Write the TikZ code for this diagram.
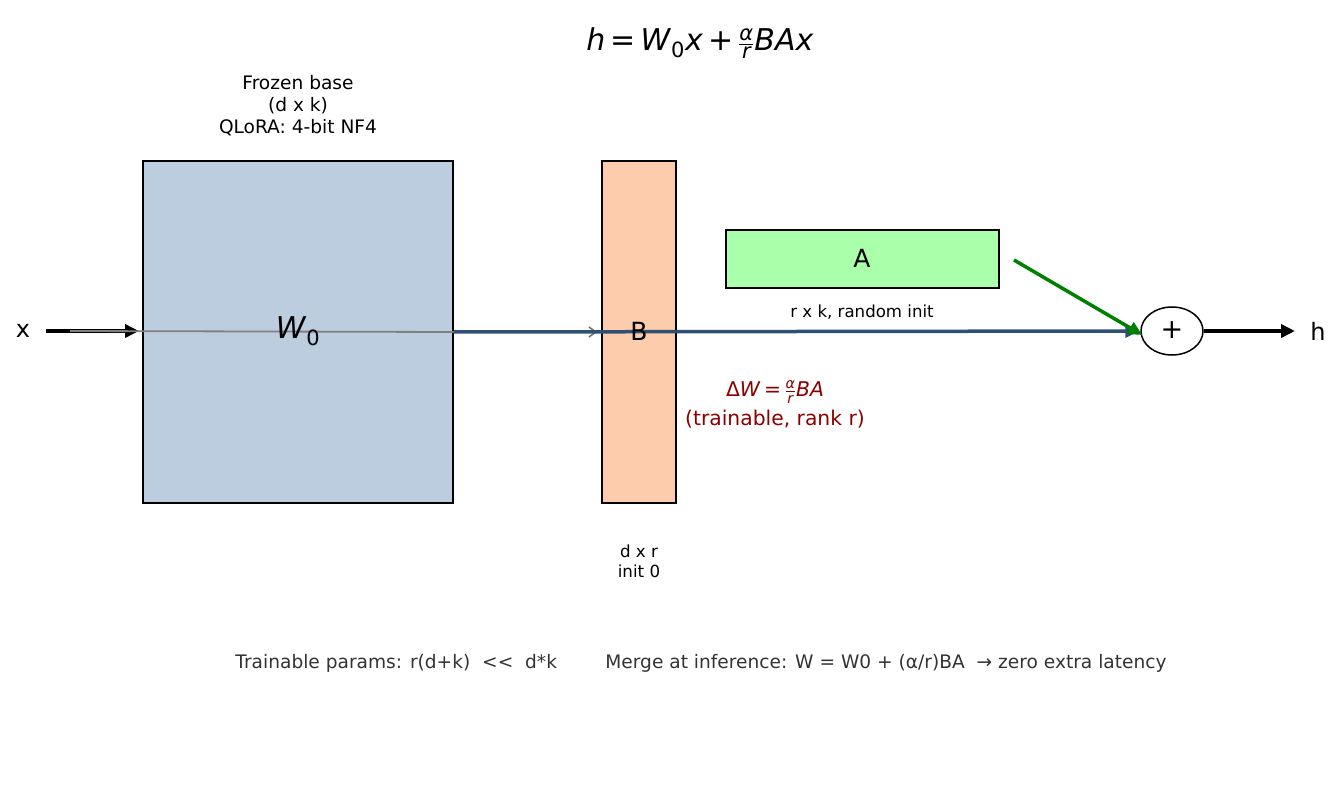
\documentclass[tikz,border=0pt]{standalone}
\usepackage{fontspec}
\usepackage{amsmath}
\setmainfont{DejaVu Sans}
\usetikzlibrary{shapes.geometric,arrows.meta}
\definecolor{wfill}{RGB}{187,205,223}
\definecolor{bfill}{RGB}{253,204,172}
\definecolor{afill}{RGB}{170,255,170}
\definecolor{flow}{RGB}{45,80,115}
\definecolor{dred}{RGB}{139,0,0}
\definecolor{note}{RGB}{51,51,51}
\newcommand{\ffr}[2]{$\genfrac{}{}{0.3pt}{}{\text{\itshape #1}}{\text{\itshape #2}}$}
\newcommand{\fsz}[2]{\fontsize{#1}{#2}\selectfont}
\tikzset{
  mat/.style={draw=black, line width=1.5pt, inner sep=0pt},
  lbl/.style={inner sep=0pt, align=center},
  bigarrow/.style={line width=3.5pt, -{Triangle[length=14pt,width=13pt]}},
}
\begin{document}
\begin{tikzpicture}[x=1pt,y=-1pt]
\useasboundingbox (0,0) rectangle (1341,810);
% boxes
\node[mat, fill=wfill, minimum width=310pt, minimum height=342pt] (W) at (298,332) {};
\node[mat, fill=bfill, minimum width=74pt, minimum height=342pt] (B) at (639,332) {};
\node[mat, fill=afill, minimum width=273pt, minimum height=58pt] (A) at (862.5,259) {};
\node[draw=black, line width=1.5pt, ellipse, minimum width=62pt, minimum height=48pt, inner sep=0pt] (P) at (1172,331) {};
\node[lbl, font={\fsz{27}{30}}] (plus) at (1172,330) {+};
% labels
\node[lbl, font={\fsz{24}{28}}] (xl) at (23,331) {x};
\node[lbl, font={\fsz{24}{28}}] (hl) at (1318,331) {h};
\coordinate (xs) at (46,331);
\coordinate (xe) at (139,331);
\coordinate (gs) at (70,331);
\coordinate (ge) at (1295,331);
\coordinate (as) at (1014,260);
% arrows
\draw[bigarrow] (xs) -- (xe);
\draw[gray, line width=1.8pt] (gs) -- (W.east);
\draw[gray!70!flow, line width=1.5pt, -{Straight Barb[length=7pt,width=10pt]}] (W.east) -- ([xshift=-4pt]B.west);
\draw[flow, bigarrow] (W.east) -- ([xshift=-1pt]P.west);
\draw[green!50!black, bigarrow] (as) -- ([xshift=2pt,yshift=-4pt]P.west);
\draw[bigarrow] (P.east) -- (ge);
% box texts
\node[lbl, font={\fsz{30}{34}}] (wl) at (298,331) {\textit{W}\textsubscript{0}};
\node[lbl, font={\fsz{25}{28}}] (bl) at (639,331) {B};
\node[lbl, font={\fsz{25}{28}}] (al) at (862,258) {A};
\node[lbl, font={\fsz{30}{34}}] (title) at (700,43) {\textit{h}\,=\,\textit{W}\textsubscript{0}\textit{x}\,+\,\ffr{α}{r}\textit{BAx}};
\node[lbl, font={\fsz{18.6}{22}}] (frozen) at (298,106) {Frozen base\\(d x k)\\QLoRA: 4-bit NF4};
\node[lbl, font={\fsz{16.6}{20}}] (ainfo) at (862,312) {r x k, random init};
\node[lbl, font={\fsz{16.7}{20}}] (binfo) at (639,561) {d x r\\init 0};
\node[lbl, text=dred, font={\fsz{20.3}{29}}] (dw) at (775,404) {Δ\textit{W}\,=\,\ffr{α}{r}\textit{BA}\\(trainable, rank r)};
\node[lbl, text=note, font={\fsz{18.6}{22}}] (foot) at (701,663) {Trainable params: r(d+k)\ \ <{}<\ \ d*k\hspace{2.6em}Merge at inference: W = W0 + (α/r)BA\ \ → zero extra latency};
\end{tikzpicture}
\end{document}
